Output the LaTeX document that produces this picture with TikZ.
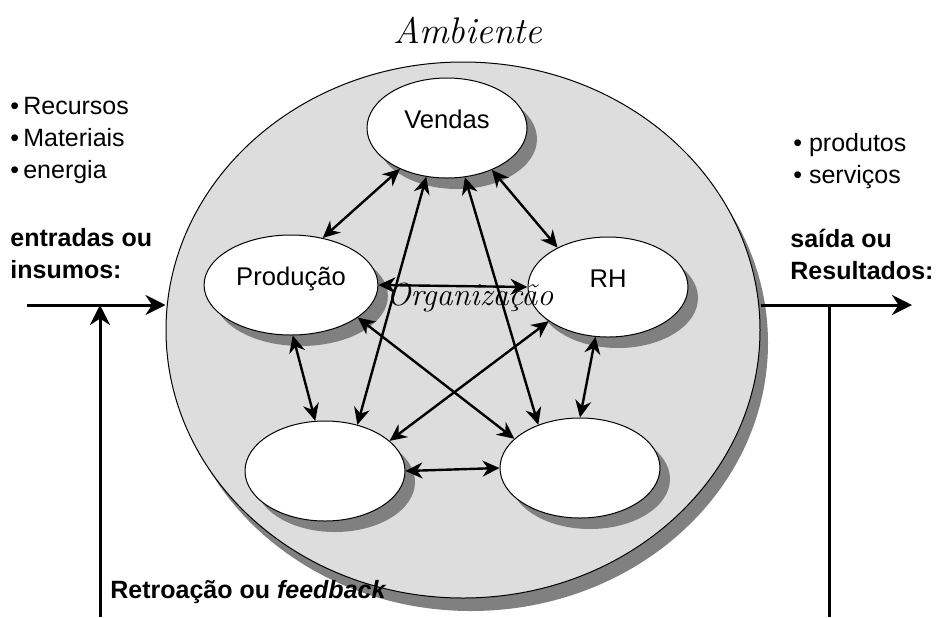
\documentclass[tikz,border=0pt]{standalone}
\usepackage{fontspec}
\newfontfamily\arial{Liberation Sans}
\usepackage{tikz}
\usetikzlibrary{positioning, arrows.meta, shapes.geometric, shadows}
\usepackage{xcolor}
\definecolor{orgfill}{RGB}{221,221,221}
\definecolor{sombra}{RGB}{128,128,128}

\begin{document}
\begin{tikzpicture}[
                x=0.5pt, y=-0.5pt,
                setor/.style={ellipse, draw=black, line width=0.5pt, fill=white, minimum width=80pt, minimum height=50pt, text height=7pt, text depth=7pt, font=\arial\fontsize{12.8}{15}\selectfont, drop shadow={shadow xshift=5pt, shadow yshift=-5.5pt, fill=sombra, opacity=1}},
                org/.style={ellipse, draw=black, line width=0.5pt, fill=orgfill, minimum width=297pt, minimum height=268pt, drop shadow={shadow xshift=4pt, shadow yshift=-6.5pt, fill=sombra, opacity=1}},
                hand/.style={font=\itshape\fontsize{18.5}{20}\selectfont},
                rotulo/.style={font=\arial\fontsize{12.5}{16}\selectfont, align=left, inner sep=0pt},
                titulo/.style={font=\arial\bfseries\fontsize{12.5}{16}\selectfont, align=left, inner sep=0pt},
                link/.style={{Stealth[length=8.5pt, width=8pt]}-{Stealth[length=8.5pt, width=8pt]}, line width=1.2pt},
                fluxo/.style={-{Stealth[length=10pt, width=10pt]}, line width=1.5pt},
                fio/.style={line width=1.5pt}
            ]
            \useasboundingbox (0,0) rectangle (938,617);
            \node[org] (org) at (463,330) {};
            \node[hand] (ambiente) at (468,30) {Ambiente};

            \node[setor] (vendas) at (447,128) {Vendas};
            \node[setor] (producao) at (291,285) {Produção};
            \node[setor] (rh) at (608,287) {RH};
            \node[setor] (setorA) at (325,471) {};
            \node[setor] (setorB) at (580,468) {};

            \node[hand, font=\itshape\fontsize{16}{18}\selectfont, inner sep=0pt] (organizacao) at (470,297) {Organização};

            \draw[link] (vendas.221) -- (producao.56);
            \draw[link] (vendas.317) -- (rh.142);
            \draw[link] (vendas.247) -- (setorA.55);
            \draw[link] (vendas.290) -- (setorB.134);
            \draw[link] (producao.east) -- (rh.west);
            \draw[link] (producao.272) -- (setorA.101);
            \draw[link] (producao.334) -- (setorB.156);
            \draw[link] (rh.210) -- (setorA.25);
            \draw[link] (rh.256) -- (setorB.90);
            \draw[link] (setorA.east) -- (setorB.west);

            \node[rotulo, anchor=west] (recursos) at (10,140) {•\,Recursos\\•\,Materiais\\•\,energia};
            \node[titulo, anchor=west] (entradas) at (10,254) {entradas ou\\insumos:};
            \node[rotulo, anchor=west] (produtos) at (793,161) {• produtos\\• serviços};
            \node[titulo, anchor=west] (resultados) at (790,254) {saída ou\\Resultados:};
            \node[titulo, anchor=west] (retroacao) at (110,592) {Retroação ou \textit{feedback}};

            \coordinate (entrada) at (27,305);
            \coordinate (saida) at (912,305);
            \coordinate (retroIn) at (100,617);
            \coordinate (retroOut) at (829,617);

            \draw[fluxo] (entrada) -- (entrada -| org.west);
            \draw[fluxo] (saida -| org.east) -- (saida);
            \draw[fluxo] (retroIn) -- (retroIn |- entrada);
            \draw[fio] (retroOut) -- (retroOut |- saida);
        \end{tikzpicture}
\end{document}
